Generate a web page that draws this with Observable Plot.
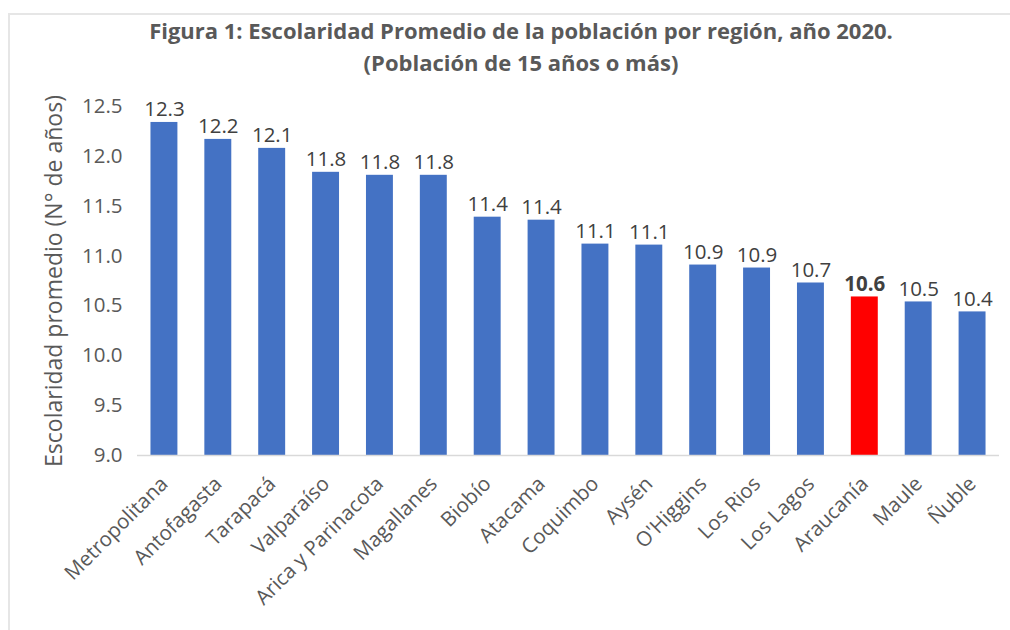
<!DOCTYPE html>
<html><head><meta charset="utf-8">
<script src="https://cdn.jsdelivr.net/npm/d3@7"></script>
<script src="https://cdn.jsdelivr.net/npm/@observablehq/plot@0.6"></script>
<style>
body{margin:0;background:#fff;}
#wrap{position:relative;width:1010px;height:630px;overflow:hidden;font-family:"Open Sans",sans-serif;background:#fff;}
#frame{position:absolute;left:8px;top:13px;width:1100px;height:700px;border-top:2px solid #e6e6e6;border-left:2px solid #e6e6e6;pointer-events:none;}
#title{position:relative;height:85px;box-sizing:border-box;padding-top:14px;padding-left:32px;text-align:center;font-weight:700;font-size:22px;line-height:32px;color:#595959;white-space:nowrap;}
#chart{position:relative;}
</style></head>
<body>
<div id="wrap">
<div id="frame"></div>
<div id="title">Figura 1: Escolaridad Promedio de la población por región, año 2020.<br>(Población de 15 años o más)</div>
<div id="chart"></div>
</div>
<script>
const regions = ["Metropolitana","Antofagasta","Tarapacá","Valparaíso","Arica y Parinacota","Magallanes","Biobío","Atacama","Coquimbo","Aysén","O'Higgins","Los Rios","Los Lagos","Araucanía","Maule","Ñuble"];
const values = [12.34,12.17,12.08,11.84,11.81,11.81,11.39,11.36,11.12,11.11,10.91,10.88,10.73,10.59,10.54,10.44];
const labels = ["12.3","12.2","12.1","11.8","11.8","11.8","11.4","11.4","11.1","11.1","10.9","10.9","10.7","10.6","10.5","10.4"];
const highlight = "Araucanía";
const yTicks = [9.0,9.5,10.0,10.5,11.0,11.5,12.0,12.5];

const data = regions.map((r,i)=>({region:r, value:values[i], label:labels[i], hi:r===highlight}));

const chart = Plot.plot({
  width: 1010,
  height: 545,
  marginLeft: 137,
  marginRight: 11,
  marginTop: 21,
  marginBottom: 175,
  style: {fontFamily: '"Open Sans", sans-serif', fontSize: "20.5px", color: "#595959", background: "transparent"},
  x: {domain: regions, paddingInner: 0.5, paddingOuter: 0.25, round: false, label: null, tickSize: 0, tickRotate: -45, tickPadding: 25, fontSize: 20.5},
  y: {domain: [9, 12.5]},
  marks: [
    Plot.barY(data, {x: "region", y1: 9, y2: "value", fill: d => d.hi ? "#FF0000" : "#4472C4"}),
    Plot.ruleY([9], {stroke: "#d9d9d9", strokeWidth: 1.5}),
    Plot.axisY({ticks: yTicks, tickFormat: d3.format(".1f"), tickSize: 0, tickPadding: 15, fontSize: 20.5, label: null}),
    Plot.axisY({ticks: [], label: "Escolaridad promedio (N° de años)", labelAnchor: "center", labelArrow: "none", labelOffset: 92, fontSize: 23, tickSize: 0}),
    Plot.text(data.filter(d => !d.hi), {x: "region", y: "value", text: "label", dy: -6, lineAnchor: "bottom", fill: "#404040", fontSize: 20.5}),
    Plot.text(data.filter(d => d.hi), {x: "region", y: "value", text: "label", dy: -6, lineAnchor: "bottom", fill: "#404040", fontSize: 20.5, fontWeight: "bold"})
  ]
});
document.getElementById("chart").appendChild(chart);
</script>
</body></html>
